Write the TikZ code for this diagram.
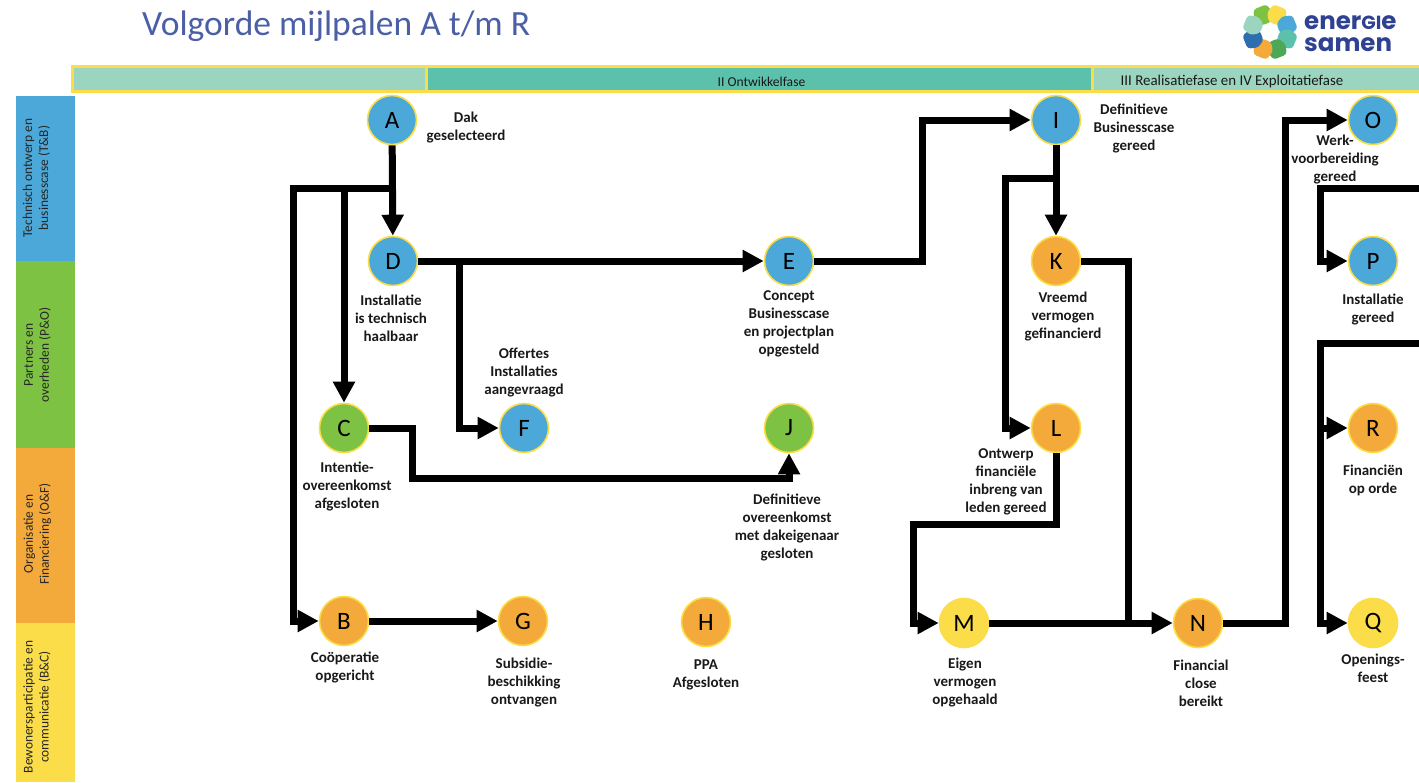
\documentclass[tikz,border=0pt]{standalone}
\usepackage{fontspec}
\usepackage{graphicx}
\setmainfont{Carlito}
\newfontfamily\logofont{Poppins}
\usetikzlibrary{arrows.meta}
\definecolor{cblue}{HTML}{4BA8D8}
\definecolor{cgreen}{HTML}{7DC242}
\definecolor{corange}{HTML}{F4A93B}
\definecolor{cyellow}{HTML}{FBDD4A}
\definecolor{ctealL}{HTML}{9BD5C0}
\definecolor{cteal}{HTML}{5BC1AB}
\definecolor{cframe}{HTML}{FBDD4A}
\definecolor{ctitle}{HTML}{4A5FA5}
\definecolor{clogo}{HTML}{2F4191}
\definecolor{cdkgreen}{HTML}{4CA757}
\definecolor{cdkblue}{HTML}{2E6DB0}
\tikzset{
  ms/.style={circle,draw=cframe,line width=1.6pt,minimum size=49pt,inner sep=0pt,font=\fontsize{25}{25}\selectfont,text=black},
  lab/.style={align=center,font=\fontsize{15}{18}\bfseries\selectfont,inner sep=0pt,text=black!90},
  conn/.style={line width=7pt,draw=black,-{Triangle[length=21pt,width=21pt]},line join=miter},
  plainconn/.style={line width=7pt,draw=black,line join=miter},
  phase/.style={draw=cframe,line width=3pt,minimum height=25pt,inner sep=0pt,anchor=north west},
  phasetxt/.style={inner sep=0pt,text=black!90},
  track/.style={minimum width=59pt,inner sep=0pt,anchor=north west,draw=none},
  tracktxt/.style={rotate=90,align=center,font=\fontsize{13.4}{16}\selectfont,inner sep=0pt,text=black!85},
  petal/.style={rounded corners=3pt,draw=none},
  logotxt/.style={anchor=west,inner sep=0pt,text=clogo},
}
\newcommand{\logoA}{\fontsize{24.5}{24}\selectfont}
\newcommand{\logoB}{\fontsize{19}{24}\selectfont}
\begin{document}
\begin{tikzpicture}[x=1pt,y=-1pt]
\useasboundingbox (0,0) rectangle (1419,782);
\clip (0,0) rectangle (1419,782);
% title
\node[anchor=west,inner sep=0pt,text=ctitle,font=\fontsize{35.5}{38}\selectfont] (title) at (142,26) {Volgorde mijlpalen A t/m R};
% logo
\foreach \ang/\col in {112/cgreen,68/cyellow,22/cblue,-22/cteal,-68/cdkgreen,-112/corange,-158/cdkblue,158/ctealL}{
  \fill[petal,\col,shift={(1270,32)},rotate=\ang] (9,-5) -- (17,-10) -- (27,-7) -- (27,7) -- (17,10) -- (9,5) -- cycle;
}
\node[logotxt,font=\logofont\bfseries] (logoE) at (1304,23) {\logoA ener{\logoB GI}e};
\node[logotxt,font=\logofont\bfseries] (logoS) at (1304,44.5) {\logoA samen};
% phases
\node[phase,fill=ctealL,minimum width=354pt] (ph1) at (71,65) {};
\node[phase,fill=cteal,minimum width=666pt] (ph2) at (425,65) {};
\node[phase,fill=ctealL,minimum width=340pt] (ph3) at (1091,65) {};
\node[phasetxt,font=\fontsize{13.6}{16}\selectfont] (ph2t) at (761.5,82) {II Ontwikkelfase};
\node[phasetxt,font=\fontsize{14.9}{16}\selectfont] (ph3t) at (1232,82) {III Realisatiefase en IV Exploitatiefase};
% tracks
\node[track,fill=cblue,minimum height=165pt] (t1) at (16,96) {};
\node[track,fill=cgreen,minimum height=187pt] (t2) at (16,261) {};
\node[track,fill=corange,minimum height=175pt] (t3) at (16,448) {};
\node[track,fill=cyellow,minimum height=159pt] (t4) at (16,623) {};
\node[tracktxt] (t1t) at (36.5,178) {Technisch ontwerp en\\businesscase (T\&B)};
\node[tracktxt] (t2t) at (37.5,355) {Partners en\\overheden (P\&O)};
\node[tracktxt] (t3t) at (37.5,534) {Organisatie en\\Financiering (O\&F)};
\node[tracktxt] (t4t) at (37,707) {Bewonersparticipatie en\\communicatie (B\&C)};
% milestones
\node[ms,fill=cblue] (A) at (392,120) {A};
\node[ms,fill=cblue] (D) at (393,261) {D};
\node[ms,fill=cblue] (E) at (789,261) {E};
\node[ms,fill=cblue] (F) at (524,428) {F};
\node[ms,fill=cgreen] (C) at (344,428) {C};
\node[ms,fill=cgreen] (J) at (789,428) {J};
\node[ms,fill=corange] (B) at (344,621) {B};
\node[ms,fill=corange] (G) at (523,621) {G};
\node[ms,fill=corange] (H) at (706,622) {H};
\node[ms,fill=cyellow] (M) at (964,623) {M};
\node[ms,fill=corange] (N) at (1198,623) {N};
\node[ms,fill=cblue] (I) at (1056,120) {I};
\node[ms,fill=corange] (K) at (1056,261) {K};
\node[ms,fill=corange] (L) at (1056,428) {L};
\node[ms,fill=cblue] (O) at (1373,120) {O};
\node[ms,fill=cblue] (P) at (1373,261) {P};
\node[ms,fill=corange] (R) at (1373,428) {R};
\node[ms,fill=cyellow] (Q) at (1373,623) {Q};
% labels
\node[lab] (lA) at (466,128) {Dak\\geselecteerd};
\node[lab] (lD) at (391,318) {Installatie\\is technisch\\haalbaar};
\node[lab] (lF) at (524,372) {Offertes\\Installaties\\aangevraagd};
\node[lab] (lE) at (789,324) {Concept\\Businesscase\\en projectplan\\opgesteld};
\node[lab] (lC) at (347,486) {Intentie-\\overeenkomst\\afgesloten};
\node[lab] (lJ) at (787,527) {Definitieve\\overeenkomst\\met dakeigenaar\\gesloten};
\node[lab] (lB) at (345,667) {Coöperatie\\opgericht};
\node[lab] (lG) at (524,682) {Subsidie-\\beschikking\\ontvangen};
\node[lab] (lH) at (706,675) {PPA\\Afgesloten};
\node[lab] (lM) at (965,682) {Eigen\\vermogen\\opgehaald};
\node[lab] (lN) at (1201,683) {Financial\\close\\bereikt};
\node[lab] (lI) at (1134,128) {Definitieve\\Businesscase\\gereed};
\node[lab] (lK) at (1063,317) {Vreemd\\vermogen\\gefinancierd};
\node[lab] (lL) at (1006,482) {Ontwerp\\financiële\\inbreng van\\leden gereed};
\node[lab] (lO) at (1335,160) {Werk-\\voorbereiding\\gereed};
\node[lab] (lP) at (1373,309) {Installatie\\gereed};
\node[lab] (lR) at (1373,480) {Financiën\\op orde};
\node[lab] (lQ) at (1373,668) {Openings-\\feest};
% junctions
\coordinate (a1) at (392,188);
\coordinate (a2) at (293,188);
\coordinate (a3) at (293,621);
\coordinate (a4) at (344,188);
\coordinate (d1) at (459,261);
\coordinate (d2) at (459,428);
\coordinate (c1) at (412,428);
\coordinate (c2) at (412,478);
\coordinate (c3) at (789,478);
\coordinate (e1) at (922,261);
\coordinate (e2) at (922,120);
\coordinate (i1) at (1056,178);
\coordinate (i2) at (1005,178);
\coordinate (i3) at (1005,428);
\coordinate (k1) at (1128,261);
\coordinate (k2) at (1128,623);
\coordinate (l1) at (1056,524);
\coordinate (l2) at (913,524);
\coordinate (l3) at (913,623);
\coordinate (n1) at (1285,623);
\coordinate (n2) at (1285,120);
\coordinate (p0) at (1425,188);
\coordinate (p1) at (1320,188);
\coordinate (p2) at (1320,261);
\coordinate (q0) at (1425,343);
\coordinate (q1) at (1320,343);
\coordinate (q2) at (1320,623);
\coordinate (q3) at (1320,428);
% connectors
\draw[conn] (A) -- (D);
\draw[conn] (a1) -- (a2) -- (a3) -- (B);
\draw[conn] (a4) -- (C);
\draw[conn] (D) -- (E);
\draw[conn] (d1) -- (d2) -- (F);
\draw[conn] (C) -- (c1) -- (c2) -- (c3) -- (J);
\draw[conn] (B) -- (G);
\draw[conn] (E) -- (e1) -- (e2) -- (I);
\draw[conn] (I) -- (K);
\draw[conn] (i1) -- (i2) -- (i3) -- (L);
\draw[plainconn] (K) -- (k1) -- (k2);
\draw[conn] (L) -- (l1) -- (l2) -- (l3) -- (M);
\draw[conn] (M) -- (N);
\draw[conn] (N) -- (n1) -- (n2) -- (O);
\draw[conn] (p0) -- (p1) -- (p2) -- (P);
\draw[conn] (q0) -- (q1) -- (q2) -- (Q);
\draw[conn] (q3) -- (R);
\end{tikzpicture}
\end{document}
